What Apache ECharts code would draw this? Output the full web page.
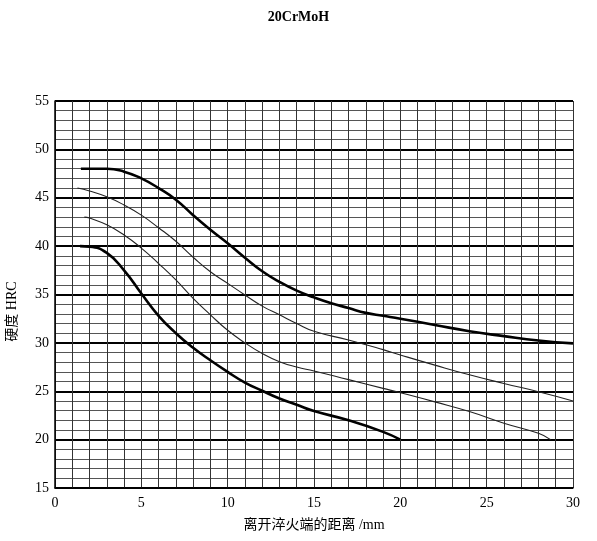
<!DOCTYPE html>
<html>
<head>
<meta charset="utf-8">
<script src="https://cdn.jsdelivr.net/npm/echarts@6/dist/echarts.min.js"></script>
<style>
  html, body { margin: 0; padding: 0; background: #fff; }
  #chart { width: 597px; height: 541px; }
</style>
</head>
<body>
<div id="chart"></div>
<script>
  // 离开淬火端的距离 (mm) / 硬度 HRC
  const dist1 = [1.5, 3, 4, 5, 6, 7, 8, 9, 10, 11, 12, 13, 14, 15, 16, 17, 18, 19, 20, 22, 24, 26, 28, 30];
  const hrc1 = [48.0, 48.0, 47.7, 47.0, 46.0, 44.8, 43.2, 41.7, 40.3, 38.8, 37.4, 36.3, 35.4, 34.7, 34.1, 33.6, 33.1, 32.8, 32.5, 31.85, 31.2, 30.7, 30.25, 29.95];

  const dist2 = [1.3, 2, 3, 4, 5, 6, 7, 8, 9, 10, 11, 12, 13, 14, 15, 17, 19, 20, 22, 24, 26, 28, 30];
  const hrc2 = [46.0, 45.7, 45.1, 44.25, 43.2, 41.9, 40.5, 38.85, 37.35, 36.15, 34.95, 33.8, 32.9, 32.0, 31.2, 30.3, 29.3, 28.75, 27.7, 26.7, 25.8, 24.95, 24.0];

  const dist3 = [1.7, 2, 3, 4, 5, 6, 7, 8, 9, 10, 11, 12, 13, 14, 15, 17, 19, 20, 22, 24, 26, 28, 28.7];
  const hrc3 = [43.0, 42.9, 42.2, 41.15, 39.8, 38.2, 36.5, 34.6, 32.9, 31.3, 30.0, 28.9, 28.05, 27.5, 27.1, 26.2, 25.3, 24.85, 23.9, 22.9, 21.7, 20.65, 20.0];

  const dist4 = [1.45, 2, 3, 4, 5, 6, 7, 8, 9, 10, 11, 12, 13, 14, 15, 17, 19, 20];
  const hrc4 = [40.0, 39.95, 39.3, 37.5, 35.1, 32.8, 31.0, 29.5, 28.2, 27.0, 25.9, 25.05, 24.25, 23.6, 22.95, 22.0, 20.8, 20.0];

  const serif = '"Liberation Serif", "DejaVu Serif", "Noto Sans CJK SC", serif';

  const pairs = (xs, ys) => xs.map((x, i) => [x, ys[i]]);

  const curve = (data, bold) => ({
    type: 'line',
    data: data,
    smooth: 0.5,
    symbol: 'none',
    silent: true,
    lineStyle: {
      color: bold ? '#000' : '#222',
      width: bold ? 2.6 : 1.1,
    },
  });

  const chart = echarts.init(document.getElementById('chart'));
  chart.setOption({
    animation: false,
    backgroundColor: '#fff',
    title: {
      text: '20CrMoH',
      left: 'center',
      top: 5,
      textStyle: { fontFamily: serif, fontSize: 14, fontWeight: 'bold', color: '#000' },
    },
    grid: { left: 55, right: 24, top: 101, bottom: 53, outerBoundsMode: 'none', containLabel: false },
    xAxis: {
      type: 'value',
      min: 0,
      max: 30,
      interval: 5,
      name: '离开淬火端的距离 /mm',
      nameLocation: 'middle',
      nameGap: 30,
      nameTextStyle: { fontFamily: serif, fontSize: 14, color: '#000' },
      axisLine: { lineStyle: { color: '#000', width: 1.5 } },
      axisTick: { show: false },
      axisLabel: { fontFamily: serif, fontSize: 14, color: '#000', margin: 8 },
      splitLine: { show: true, lineStyle: { color: '#333', width: 1 } },
      minorTick: { show: false, splitNumber: 5 },
      minorSplitLine: { show: true, lineStyle: { color: '#333', width: 1 } },
    },
    yAxis: {
      type: 'value',
      min: 15,
      max: 55,
      interval: 5,
      name: '硬度 HRC',
      nameLocation: 'middle',
      nameGap: 36,
      nameTextStyle: { fontFamily: serif, fontSize: 14, color: '#000', padding: [0, 34, 0, 0] },
      axisLine: { show: true, lineStyle: { color: '#000', width: 1.5 } },
      axisTick: { show: false },
      axisLabel: { fontFamily: serif, fontSize: 14, color: '#000', margin: 6 },
      splitLine: { show: true, lineStyle: { color: '#000', width: 2 } },
      minorTick: { show: false, splitNumber: 5 },
      minorSplitLine: { show: true, lineStyle: { color: '#555', width: 1.2 } },
    },
    series: [
      curve(pairs(dist1, hrc1), true),
      curve(pairs(dist2, hrc2), false),
      curve(pairs(dist3, hrc3), false),
      curve(pairs(dist4, hrc4), true),
    ],
  });
</script>
</body>
</html>
